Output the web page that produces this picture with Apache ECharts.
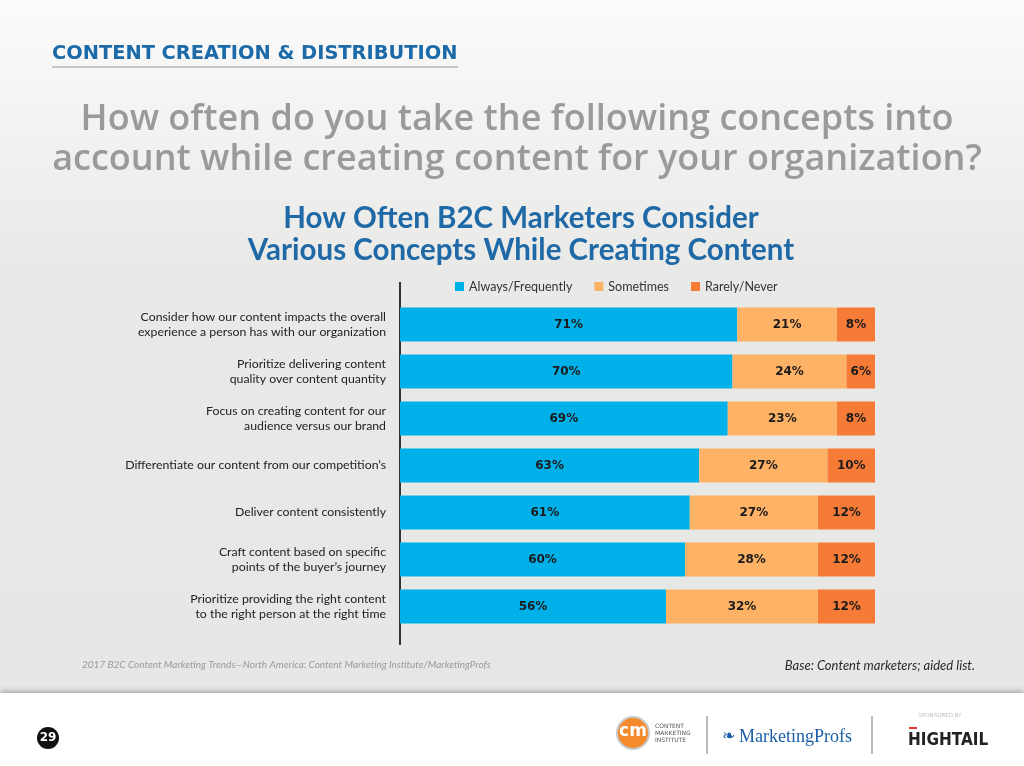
<!DOCTYPE html>
<html>
<head>
<meta charset="utf-8">
<script src="https://cdn.jsdelivr.net/npm/echarts@6/dist/echarts.min.js"></script>
<style>
html,body{margin:0;padding:0;background:#e7e7e5;}
#c{width:1024px;height:766px;}
</style>
</head>
<body>
<div id="c"></div>
<script>
var categories = [
  "Consider how our content impacts the overall\nexperience a person has with our organization",
  "Prioritize delivering content\nquality over content quantity",
  "Focus on creating content for our\naudience versus our brand",
  "Differentiate our content from our competition\u2019s",
  "Deliver content consistently",
  "Craft content based on specific\npoints of the buyer\u2019s journey",
  "Prioritize providing the right content\nto the right person at the right time"
];
var seriesNames = ["Always/Frequently", "Sometimes", "Rarely/Never"];
var always = [71, 70, 69, 63, 61, 60, 56];
var sometimes = [21, 24, 23, 27, 27, 28, 32];
var rarely = [8, 6, 8, 10, 12, 12, 12];

var colors = ["#00b0e8", "#feb265", "#f67b37"];
var chart = echarts.init(document.getElementById('c'));

function mkSeries(name, data, color) {
  return {
    name: name, type: 'bar', stack: 'all', data: data, barWidth: 34,
    itemStyle: { color: color },
    label: {
      show: true, position: 'inside', formatter: '{c}%',
      color: '#1a1a1a', fontFamily: 'DejaVu Sans', fontWeight: 'bold', fontSize: 12
    },
    emphasis: { disabled: true }
  };
}

var option = {
  animation: false,
  backgroundColor: {
    type: 'linear', x: 0, y: 0, x2: 0, y2: 1,
    colorStops: [{ offset: 0, color: '#fbfbfb' }, { offset: 0.35, color: '#e9e9e7' }, { offset: 1, color: '#e6e6e4' }]
  },
  title: [
    { text: 'CONTENT CREATION & DISTRIBUTION', left: 52, top: 44, padding: 0,
      textStyle: { fontFamily: 'DejaVu Sans', fontWeight: 'bold', fontSize: 19.4, color: '#1c6aa8' } },
    { text: 'How often do you take the following concepts into\naccount while creating content for your organization?',
      left: 517, top: 100, padding: 0, textAlign: 'center',
      textStyle: { fontFamily: 'Open Sans', fontWeight: 600, fontSize: 36, lineHeight: 40, color: '#9a9a9a' } },
    { text: 'How Often B2C Marketers Consider\nVarious Concepts While Creating Content',
      left: 521, top: 202, padding: 0, textAlign: 'center',
      textStyle: { fontFamily: 'Lato', fontWeight: 'bold', fontSize: 29.5, lineHeight: 32, color: '#1f69a6' } },
    { text: '2017 B2C Content Marketing Trends\u2014North America: Content Marketing Institute/MarketingProfs',
      left: 82, top: 660, padding: 0,
      textStyle: { fontFamily: 'Lato', fontStyle: 'italic', fontWeight: 'normal', fontSize: 10, color: '#9a9a9a' } },
    { text: 'Base: Content marketers; aided list.',
      left: 975, top: 659, padding: 0, textAlign: 'right',
      textStyle: { fontFamily: 'Lato', fontStyle: 'italic', fontWeight: 'normal', fontSize: 13, color: '#2a2a2a' } }
  ],
  legend: {
    data: seriesNames, left: 450, top: 275, icon: 'rect', itemWidth: 9, itemHeight: 9, itemGap: 22,
    selectedMode: false,
    textStyle: { fontFamily: 'Lato', fontSize: 12.5, color: '#333' }
  },
  grid: { left: 400, right: 149, top: 301, height: 329, containLabel: false },
  xAxis: { type: 'value', min: 0, max: 100, show: false },
  yAxis: {
    type: 'category', data: categories, inverse: true,
    axisLine: { show: false }, axisTick: { show: false },
    axisLabel: { margin: 14, fontFamily: 'Lato', fontSize: 12.3, lineHeight: 15, color: '#222', align: 'right' }
  },
  series: [
    mkSeries(seriesNames[0], always, colors[0]),
    mkSeries(seriesNames[1], sometimes, colors[1]),
    mkSeries(seriesNames[2], rarely, colors[2])
  ],
  graphic: [
    { type: 'line', shape: { x1: 52, y1: 67, x2: 458, y2: 67 }, style: { stroke: '#9a9a9a', lineWidth: 1 } },
    { type: 'line', shape: { x1: 400, y1: 282, x2: 400, y2: 645 }, style: { stroke: '#333', lineWidth: 2 } },
    { type: 'rect', shape: { x: 0, y: 693, width: 1024, height: 73 },
      style: { fill: '#ffffff', shadowColor: 'rgba(0,0,0,0.35)', shadowBlur: 6, shadowOffsetY: -1 } },
    { type: 'circle', shape: { cx: 48, cy: 738, r: 11 }, style: { fill: '#111' } },
    { type: 'text', style: { text: '29', x: 48, y: 738, align: 'center', verticalAlign: 'middle',
      font: 'bold 12px "DejaVu Sans"', fill: '#fff' } },
    { type: 'circle', shape: { cx: 633, cy: 733, r: 16 }, style: { fill: '#f58a2c', stroke: '#c9c9c9', lineWidth: 2 } },
    { type: 'text', style: { text: 'cm', x: 633, y: 732, align: 'center', verticalAlign: 'middle',
      font: 'bold 17px "DejaVu Sans"', fill: '#fff' } },
    { type: 'text', style: { text: 'CONTENT\nMARKETING\nINSTITUTE', x: 655, y: 733, align: 'left', verticalAlign: 'middle',
      font: '6px "DejaVu Sans"', lineHeight: 7, fill: '#555' } },
    { type: 'line', shape: { x1: 707, y1: 716, x2: 707, y2: 754 }, style: { stroke: '#777', lineWidth: 1 } },
    { type: 'text', style: { text: '\u2767', x: 722, y: 737, align: 'left', verticalAlign: 'middle',
      font: '16px "DejaVu Sans"', fill: '#1b5fa6' } },
    { type: 'text', style: { text: 'MarketingProfs', x: 739, y: 737, align: 'left', verticalAlign: 'middle',
      font: '18px "Liberation Serif"', fill: '#1b5fa6' } },
    { type: 'line', shape: { x1: 872, y1: 716, x2: 872, y2: 754 }, style: { stroke: '#777', lineWidth: 1 } },
    { type: 'text', style: { text: 'SPONSORED BY', x: 940, y: 716, align: 'center', verticalAlign: 'middle',
      font: '5.5px "DejaVu Sans"', fill: '#bbb' } },
    { type: 'rect', shape: { x: 909, y: 727, width: 8, height: 2 }, style: { fill: '#e23b3b' } },
    { type: 'text', style: { text: 'HIGHTAIL', x: 908, y: 741, align: 'left', verticalAlign: 'middle',
      font: 'bold 17px "DejaVu Sans Condensed"', fill: '#222' } }
  ]
};
chart.setOption(option);
</script>
</body>
</html>
